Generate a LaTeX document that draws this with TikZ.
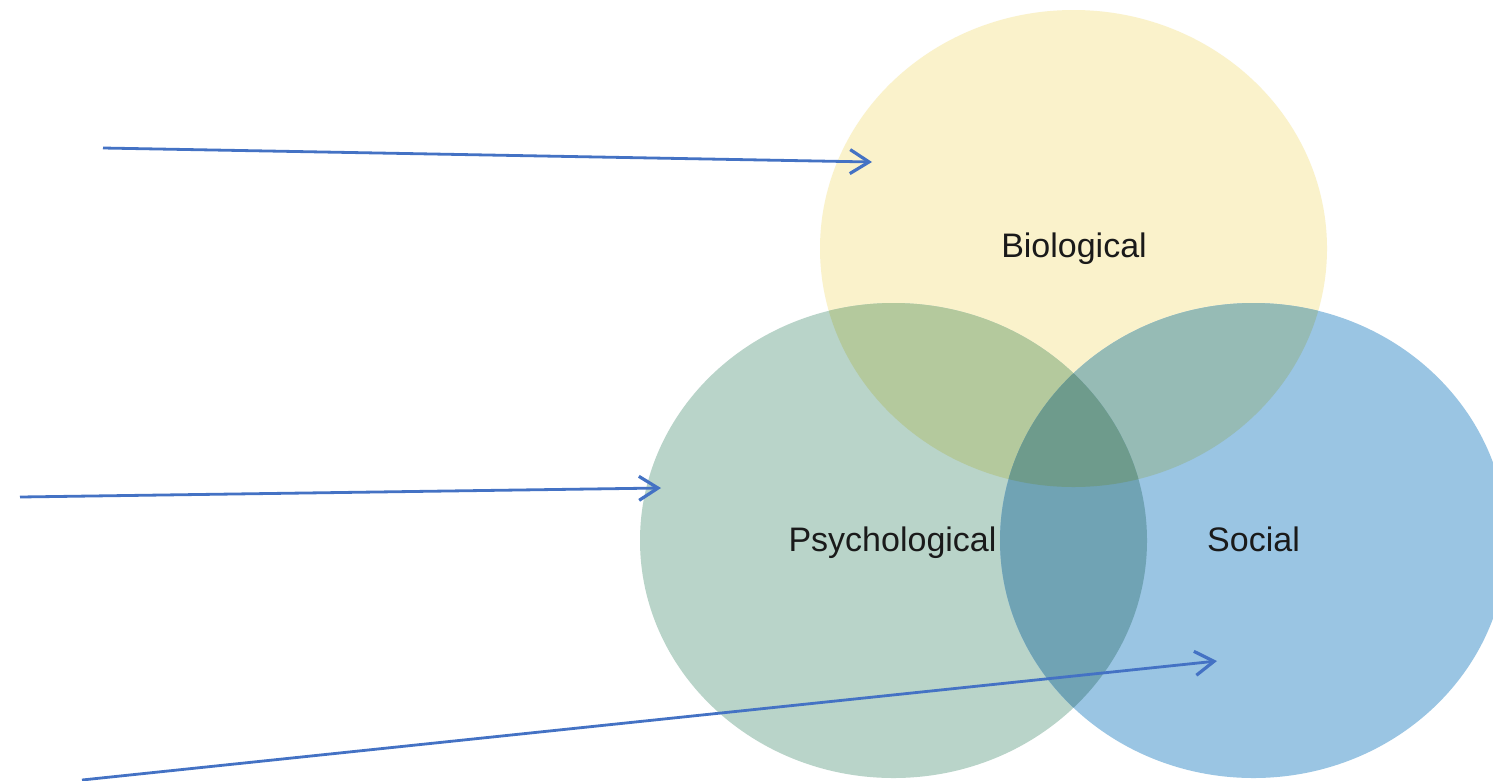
\documentclass[tikz,border=0pt]{standalone}
\usepackage{fontspec}
\setmainfont{Liberation Sans}
\usetikzlibrary{arrows.meta}
\definecolor{bioC}{HTML}{FAF2CB}
\definecolor{psyC}{HTML}{B9D4C9}
\definecolor{socC}{HTML}{9AC5E3}
\definecolor{bpC}{HTML}{B4C99D}
\definecolor{bsC}{HTML}{96BBB5}
\definecolor{psC}{HTML}{70A3B4}
\definecolor{allC}{HTML}{6E9B8C}
\definecolor{arrC}{HTML}{4472C4}
\definecolor{txtC}{HTML}{1A1A1A}
\tikzset{
  lbl/.style={font=\fontsize{34}{40}\selectfont, text=txtC, inner sep=0pt, anchor=base},
  arr/.style={draw=arrC, line width=2.8pt, -{Straight Barb[length=19pt,width=24pt,line width=3.2pt]}}
}
\newcommand{\bioP}{(1073.5,248.5) ellipse [x radius=253.5, y radius=238.5]}
\newcommand{\psyP}{(893.5,540.5) ellipse [x radius=253.5, y radius=237.5]}
\newcommand{\socP}{(1253.5,540.5) ellipse [x radius=253.5, y radius=237.5]}
\begin{document}
\begin{tikzpicture}[x=1pt,y=-1pt]
\useasboundingbox (0,0) rectangle (1493,780);
\clip (0,0) rectangle (1493,780);
\fill[white] (0,0) rectangle (1493,780);
% circles
\fill[bioC] \bioP;
\fill[psyC] \psyP;
\fill[socC] \socP;
\begin{scope}
  \clip \bioP;
  \fill[bpC] \psyP;
  \fill[bsC] \socP;
\end{scope}
\begin{scope}
  \clip \psyP;
  \fill[psC] \socP;
\end{scope}
\begin{scope}
  \clip \bioP;
  \clip \psyP;
  \fill[allC] \socP;
\end{scope}
% labels
\node[lbl] (bio) at (1074,257) {Biological};
\node[lbl] (psy) at (892.5,551) {Psychological};
\node[lbl] (soc) at (1253.5,551) {Social};
% arrows
\coordinate (a1s) at (103,148);
\coordinate (a1e) at (872,162);
\coordinate (a2s) at (20,497);
\coordinate (a2e) at (661,488);
\coordinate (a3s) at (82,780);
\coordinate (a3e) at (1217,661);
\draw[arr] (a1s) -- (a1e);
\draw[arr] (a2s) -- (a2e);
\draw[arr] (a3s) -- (a3e);
\end{tikzpicture}
\end{document}
